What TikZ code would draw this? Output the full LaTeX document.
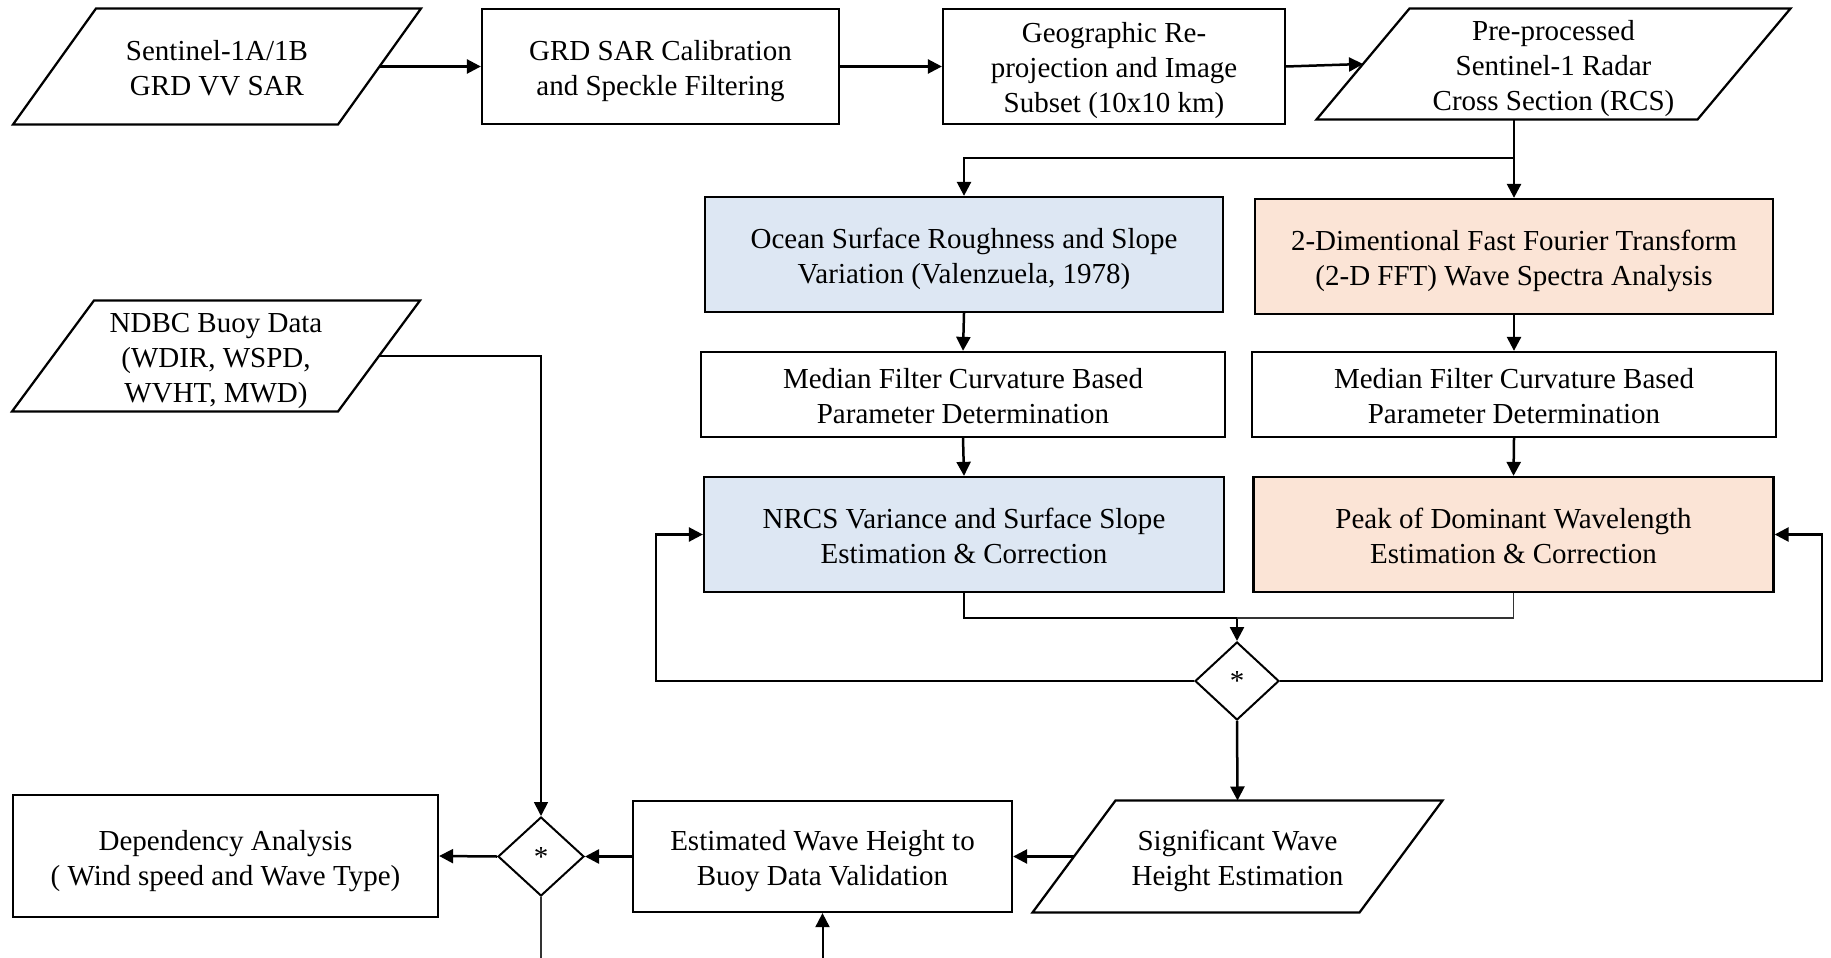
\documentclass[tikz,border=0pt]{standalone}
\usepackage{fontspec}
\setmainfont{Liberation Serif}
\usetikzlibrary{shapes.geometric,arrows.meta}
\definecolor{paleblue}{HTML}{DDE7F3}
\definecolor{palepeach}{HTML}{FBE4D6}
% centred block of lines, set a little low in its shape
\newcommand{\blocktext}[1]{\raisebox{-1.8pt}[\height][\depth]{\begin{tabular}{@{}c@{}}#1\end{tabular}}}
\begin{document}
\begin{tikzpicture}[x=0.4pt,y=-0.4pt,
  every node/.style={font=\fontsize{11.6pt}{14pt}\selectfont},
  box/.style={draw, line width=0.9pt, rectangle, inner sep=0pt},
  paratext/.style={rectangle, inner sep=0pt},
  paraline/.style={line width=0.9pt, line join=miter},
  decision/.style={draw, line width=0.8pt, diamond, inner sep=0pt},
  flow/.style={line width=1pt, -{Triangle[length=5.6pt,width=5.6pt]}},
  link/.style={line width=1pt},
  lightline/.style={line width=0.5pt, draw=black!80}
]
\useasboundingbox (0,0) rectangle (1831,958);

% top row: input, pre-processing, output image
\node[paratext, minimum width=162.8pt, minimum height=46pt] (s1) at (217,66.5)
      {\blocktext{Sentinel-1A/1B\\GRD VV SAR}};
\draw[paraline] (s1.south west) -- ([xshift=33.2pt]s1.north west) -- (s1.north east)
      -- ([xshift=-33.2pt]s1.south east) -- cycle;
\coordinate (s1 right) at ([xshift=-16.6pt]s1.east);

\node[box, minimum width=142.8pt, minimum height=46pt] (grd) at (660.5,66.5)
      {\blocktext{GRD SAR Calibration\\and Speckle Filtering}};
\node[box, minimum width=136.8pt, minimum height=46pt] (geo) at (1114,66.5)
      {\blocktext{Geographic Re-\\projection and Image\\Subset (10x10 km)}};

\node[paratext, minimum width=189.2pt, minimum height=44pt] (pre) at (1553.5,64)
      {\blocktext{Pre-processed\\Sentinel-1 Radar\\Cross Section (RCS)}};
\draw[paraline] (pre.south west) -- ([xshift=37.2pt]pre.north west) -- (pre.north east)
      -- ([xshift=-37.2pt]pre.south east) -- cycle;
\coordinate (pre left) at ([xshift=18.6pt]pre.west);

% two analysis branches
\node[box, fill=paleblue, minimum width=207.2pt, minimum height=46pt] (ocean) at (964,254.5)
      {\blocktext{Ocean Surface Roughness and Slope\\Variation (Valenzuela, 1978)}};
\node[box, fill=palepeach, minimum width=207.2pt, minimum height=46pt] (fft) at (1514,256.5)
      {\blocktext{2-Dimentional Fast Fourier Transform\\(2-D FFT) Wave Spectra Analysis}};
\node[box, minimum width=209.6pt, minimum height=34pt] (med1) at (963,394.5)
      {\blocktext{Median Filter Curvature Based\\Parameter Determination}};
\node[box, minimum width=209.6pt, minimum height=34pt] (med2) at (1514,394.5)
      {\blocktext{Median Filter Curvature Based\\Parameter Determination}};
\node[box, fill=paleblue, minimum width=208pt, minimum height=46pt] (nrcs) at (964,534.5)
      {\blocktext{NRCS Variance and Surface Slope\\Estimation \& Correction}};
\node[box, fill=palepeach, minimum width=208pt, minimum height=46pt] (peak) at (1513.5,534.5)
      {\blocktext{Peak of Dominant Wavelength\\Estimation \& Correction}};
\node[decision, minimum width=33.6pt, minimum height=31.2pt] (d1) at (1237,681) {*};

% validation row
\node[paratext, minimum width=163.6pt, minimum height=44.4pt] (sig) at (1237.5,856.5)
      {\blocktext{Significant Wave\\Height Estimation}};
\draw[paraline] (sig.south west) -- ([xshift=33.2pt]sig.north west) -- (sig.north east)
      -- ([xshift=-33.2pt]sig.south east) -- cycle;
\coordinate (sig left) at ([xshift=16.6pt]sig.west);

\node[box, minimum width=151.6pt, minimum height=44.4pt] (est) at (822.5,856.5)
      {\blocktext{Estimated Wave Height to\\Buoy Data Validation}};
\node[decision, minimum width=34.4pt, minimum height=31.6pt] (d2) at (541,856.5) {*};
\node[box, minimum width=170pt, minimum height=48.8pt] (dep) at (225.5,856)
      {\blocktext{Dependency Analysis\\( Wind speed and Wave Type)}};

\node[paratext, minimum width=162.8pt, minimum height=44pt] (ndbc) at (216,356)
      {\blocktext{NDBC Buoy Data\\(WDIR, WSPD,\\WVHT, MWD)}};
\draw[paraline] (ndbc.south west) -- ([xshift=32.8pt]ndbc.north west) -- (ndbc.north east)
      -- ([xshift=-32.8pt]ndbc.south east) -- cycle;
\coordinate (ndbc right) at ([xshift=-16.4pt]ndbc.east);

% routing rows and columns
\coordinate (splitrow) at (0,158);
\coordinate (mergerow) at (0,618);
\coordinate (loopL) at (656,0);
\coordinate (loopR) at (1822,0);
\coordinate (bottomrow) at (0,958);

% connectors
\draw[flow] (s1 right) -- (grd.west);
\draw[flow] (grd.east) -- (geo.west);
\draw[flow] (geo.east) -- (pre left);

\draw[link] (fft.north |- pre.south) -- (fft.north |- splitrow);
\draw[flow] (fft.north |- splitrow) -| (ocean.north);
\draw[flow] (fft.north |- splitrow) -- (fft.north);

\draw[flow] (ocean.south) -- (med1.north);
\draw[flow] (med1.south) -- (nrcs.north);
\draw[flow] (fft.south) -- (med2.north);
\draw[flow] (med2.south) -- (peak.north);

\draw[flow] (nrcs.south) |- (d1.north |- mergerow) -- (d1.north);
\draw[lightline] (peak.south) |- (d1.north |- mergerow);

\draw[flow] (d1.west) -| (loopL |- nrcs.west) -- (nrcs.west);
\draw[flow] (d1.east) -| (loopR |- peak.east) -- (peak.east);

\draw[flow] (d1.south) -- (sig.north);
\draw[flow] (sig left) -- (est.east);
\draw[flow] (est.west) -- (d2.east);
\draw[flow] (d2.west) -- (dep.east);

\draw[flow, line width=0.7pt] (ndbc right) -| (d2.north);
\draw[lightline] (d2.south) -- (d2.south |- bottomrow);
\draw[flow, line width=0.8pt] (est.south |- bottomrow) -- (est.south);
\end{tikzpicture}
\end{document}
